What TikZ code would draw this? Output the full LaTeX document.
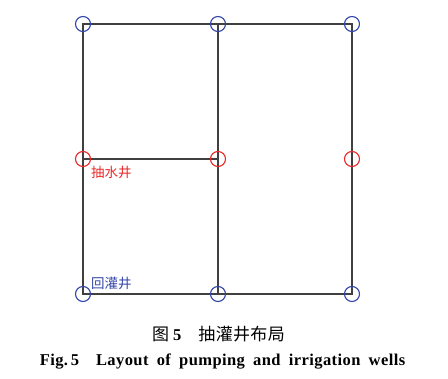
\documentclass[tikz,border=0pt]{standalone}
\usepackage{fontspec}
\setmainfont{Liberation Serif}
\newfontfamily\cjk{Noto Sans CJK SC}
\newfontfamily\cjkwide[LetterSpace=2]{Noto Sans CJK SC}
\newfontfamily\engwide[LetterSpace=2.5]{Liberation Serif}
\begin{document}
\begin{tikzpicture}[x=1pt,y=-1pt,
  grid/.style={draw=black!75,line width=1.4pt},
  bluewell/.style={circle,draw={rgb,255:red,50;green,70;blue,170},line width=1.1pt,minimum size=15pt,inner sep=0pt},
  redwell/.style={circle,draw={rgb,255:red,235;green,40;blue,40},line width=1.1pt,minimum size=15pt,inner sep=0pt},
  lbl/.style={font=\cjk\fontsize{13.5}{14}\selectfont,anchor=west,inner sep=0pt}]
\useasboundingbox (0,0) rectangle (448,379);
\coordinate (a1) at (83,24); \coordinate (a2) at (218,24); \coordinate (a3) at (352,24);
\coordinate (b1) at (83,159); \coordinate (b2) at (218,159); \coordinate (b3) at (352,159);
\coordinate (c1) at (83,294); \coordinate (c2) at (218,294); \coordinate (c3) at (352,294);
\draw[grid] (a1) -- (a3) -- (c3) -- (c1) -- cycle;
\draw[grid] (a2) -- (c2);
\draw[grid] (b1) -- (b2);
\foreach \p in {a1,a2,a3,c1,c2,c3} \node[bluewell] (w\p) at (\p) {};
\foreach \p in {b1,b2,b3} \node[redwell] (w\p) at (\p) {};
\node[lbl,text={rgb,255:red,235;green,40;blue,40}] (lp) at (91,172) {抽水井};
\node[lbl,text={rgb,255:red,50;green,70;blue,170}] (lr) at (91,283) {回灌井};
\node[inner sep=0pt] (cap1) at (218.5,334) {{\cjk\fontsize{17}{18}\selectfont 图}\hspace{4pt}{\fontsize{16.5}{18}\selectfont\bfseries 5}\hspace{17pt}{\cjkwide\fontsize{17}{18}\selectfont 抽灌井布局}};
\node[inner sep=0pt,anchor=base] (cap2) at (222.5,366) {\engwide\fontsize{16.5}{18}\selectfont\bfseries\spaceskip=0.5em Fig.\,5\hspace{17pt}Layout of pumping and irrigation wells};
\end{tikzpicture}
\end{document}
